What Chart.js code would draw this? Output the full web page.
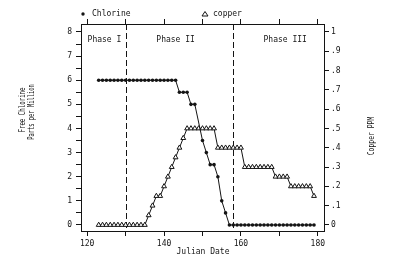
<!DOCTYPE html>
<html>
<head>
<meta charset="utf-8">
<script src="https://cdn.jsdelivr.net/npm/chart.js@4/dist/chart.umd.min.js"></script>
<style>
html, body { margin: 0; padding: 0; background: #fff; }
canvas { display: block; }
</style>
</head>
<body>
<canvas id="chart" width="400" height="276"></canvas>
<script>
// Readings by Julian date
const chlorineDays = [123,124,125,126,127,128,129,130,131,132,133,134,135,136,137,138,139,140,141,142,143,
    144,145,146,147,148,150,151,152,153,154,155,156,
    157,158,159,160,161,162,163,164,165,166,167,168,169,170,171,172,173,174,175,176,177,178,179];
const chlorineValues = [6,6,6,6,6,6,6,6,6,6,6,6,6,6,6,6,6,6,6,6,6,
    5.5,5.5,5.5,5,5,3.5,3,2.5,2.5,2,1,0.5,
    0,0,0,0,0,0,0,0,0,0,0,0,0,0,0,0,0,0,0,0,0,0,0];

const copperDays = [123,124,125,126,127,128,129,130,131,132,133,134,135,136,137,138,139,140,141,142,143,144,145,
    146,147,148,149,150,151,152,153,154,155,156,157,158,159,160,161,162,163,164,165,166,167,168,
    169,170,171,172,173,174,175,176,177,178,179];
const copperValues = [0,0,0,0,0,0,0,0,0,0,0,0,0,0.05,0.1,0.15,0.15,0.2,0.25,0.3,0.35,0.4,0.45,
    0.5,0.5,0.5,0.5,0.5,0.5,0.5,0.5,0.4,0.4,0.4,0.4,0.4,0.4,0.4,0.3,0.3,0.3,0.3,0.3,0.3,0.3,0.3,
    0.25,0.25,0.25,0.25,0.2,0.2,0.2,0.2,0.2,0.2,0.15];

// Axis ticks
const dayTicks = [120, 130, 140, 150, 160, 170, 180];
const dayLabels = [120, 140, 160, 180];
const chlorineTicks = [0,0.5,1,1.5,2,2.5,3,3.5,4,4.5,5,5.5,6,6.5,7,7.5,8];
const copperTicks = [0,0.1,0.2,0.3,0.4,0.5,0.6,0.7,0.8,0.9,1];

// Phases
const phaseBounds = [130, 158];
const phaseNames = ['Phase I', 'Phase II', 'Phase III'];
const phaseLabelDays = [124.5, 143, 171.5];

const ink = '#141414';
const mono = '"DejaVu Sans Mono", monospace';
const tickFont = { family: mono, size: 8 };

const xMin = 118.4, xMax = 181.6;
const yMin = -0.25, yMax = 8.33;

function setTicks(values) {
    return scale => { scale.ticks = values.map(v => ({ value: v })); };
}

const decorations = {
    id: 'decorations',
    beforeDatasetsDraw(chart) {
        const { ctx, chartArea, scales } = chart;
        ctx.save();
        ctx.strokeStyle = ink;
        ctx.lineWidth = 1;
        ctx.setLineDash([6, 3]);
        phaseBounds.forEach(d => {
            const x = Math.round(scales.x.getPixelForValue(d)) + 0.5;
            ctx.beginPath();
            ctx.moveTo(x, chartArea.top);
            ctx.lineTo(x, chartArea.bottom);
            ctx.stroke();
        });
        ctx.restore();
    },
    afterDraw(chart) {
        const { ctx, scales } = chart;
        ctx.save();
        ctx.fillStyle = ink;
        ctx.strokeStyle = ink;
        ctx.font = '8px ' + mono;
        ctx.textBaseline = 'middle';

        // phase labels
        ctx.textAlign = 'center';
        phaseNames.forEach((name, i) => {
            ctx.fillText(name, scales.x.getPixelForValue(phaseLabelDays[i]), 40);
        });

        // legend
        ctx.textAlign = 'left';
        ctx.beginPath();
        ctx.arc(83, 14, 1.7, 0, Math.PI * 2);
        ctx.fill();
        ctx.fillText('Chlorine', 92, 14);
        ctx.beginPath();
        ctx.moveTo(205, 11.5);
        ctx.lineTo(208, 16);
        ctx.lineTo(202, 16);
        ctx.closePath();
        ctx.stroke();
        ctx.fillText('copper', 213, 14);

        // axis titles
        ctx.textAlign = 'center';
        ctx.fillText('Julian Date', 203, 252);

        const vertical = (text, x, y, squeeze) => {
            ctx.save();
            ctx.translate(x, y);
            ctx.rotate(-Math.PI / 2);
            ctx.scale(squeeze, 1);
            ctx.fillText(text, 0, 0);
            ctx.restore();
        };
        vertical('Free Chlorine', 23, 110, 0.72);
        vertical('Parts per Million', 32, 112, 0.68);
        vertical('Copper PPM', 372, 136, 0.8);
        ctx.restore();
    }
};

const ctx = document.getElementById('chart').getContext('2d');
new Chart(ctx, {
    type: 'line',
    data: {
        datasets: [
            {
                label: 'Chlorine',
                data: chlorineDays.map((d, i) => ({ x: d, y: chlorineValues[i] })),
                yAxisID: 'y',
                borderColor: ink,
                borderWidth: 1,
                backgroundColor: ink,
                pointStyle: 'circle',
                pointRadius: 1.8,
                pointBorderWidth: 0,
                tension: 0
            },
            {
                label: 'copper',
                data: copperDays.map((d, i) => ({ x: d, y: copperValues[i] })),
                yAxisID: 'y2',
                borderColor: ink,
                borderWidth: 1,
                backgroundColor: '#fff',
                pointStyle: 'triangle',
                pointRadius: 2.8,
                pointBorderWidth: 1,
                tension: 0
            }
        ]
    },
    options: {
        responsive: false,
        animation: false,
        devicePixelRatio: 1,
        layout: { padding: 0 },
        plugins: {
            legend: { display: false },
            tooltip: { enabled: false }
        },
        scales: {
            x: {
                type: 'linear',
                position: 'bottom',
                min: xMin,
                max: xMax,
                afterBuildTicks: setTicks(dayTicks),
                afterFit: s => { s.height = 45; },
                border: { color: ink, width: 1 },
                grid: { drawOnChartArea: false, drawTicks: true, tickLength: 5, color: ink },
                ticks: {
                    color: ink, font: tickFont, padding: 3, maxRotation: 0, autoSkip: false,
                    callback: v => dayLabels.includes(v) ? String(v) : ''
                }
            },
            xTop: {
                type: 'linear',
                position: 'top',
                min: xMin,
                max: xMax,
                afterBuildTicks: setTicks(dayTicks),
                afterFit: s => { s.height = 24; },
                border: { color: ink, width: 1 },
                grid: { drawOnChartArea: false, drawTicks: true, tickLength: 5, color: ink },
                ticks: { color: ink, font: tickFont, autoSkip: false, callback: () => '' }
            },
            y: {
                type: 'linear',
                position: 'left',
                min: yMin,
                max: yMax,
                afterBuildTicks: setTicks(chlorineTicks),
                afterFit: s => { s.width = 81; },
                border: { color: ink, width: 1 },
                grid: { drawOnChartArea: false, drawTicks: true, tickLength: 5, color: ink },
                ticks: {
                    color: ink, font: tickFont, padding: 4, autoSkip: false,
                    callback: v => Number.isInteger(v) ? String(v) : ''
                }
            },
            y2: {
                type: 'linear',
                position: 'right',
                min: yMin / 8,
                max: yMax / 8,
                afterBuildTicks: setTicks(copperTicks),
                afterFit: s => { s.width = 76; },
                border: { color: ink, width: 1 },
                grid: { drawOnChartArea: false, drawTicks: true, tickLength: 5, color: ink },
                ticks: {
                    color: ink, font: tickFont, padding: 2, autoSkip: false,
                    callback: v => {
                        if (v === 0) return '0';
                        if (v === 1) return '1';
                        return '.' + Math.round(v * 10);
                    }
                }
            }
        }
    },
    plugins: [decorations]
});
</script>
</body>
</html>
